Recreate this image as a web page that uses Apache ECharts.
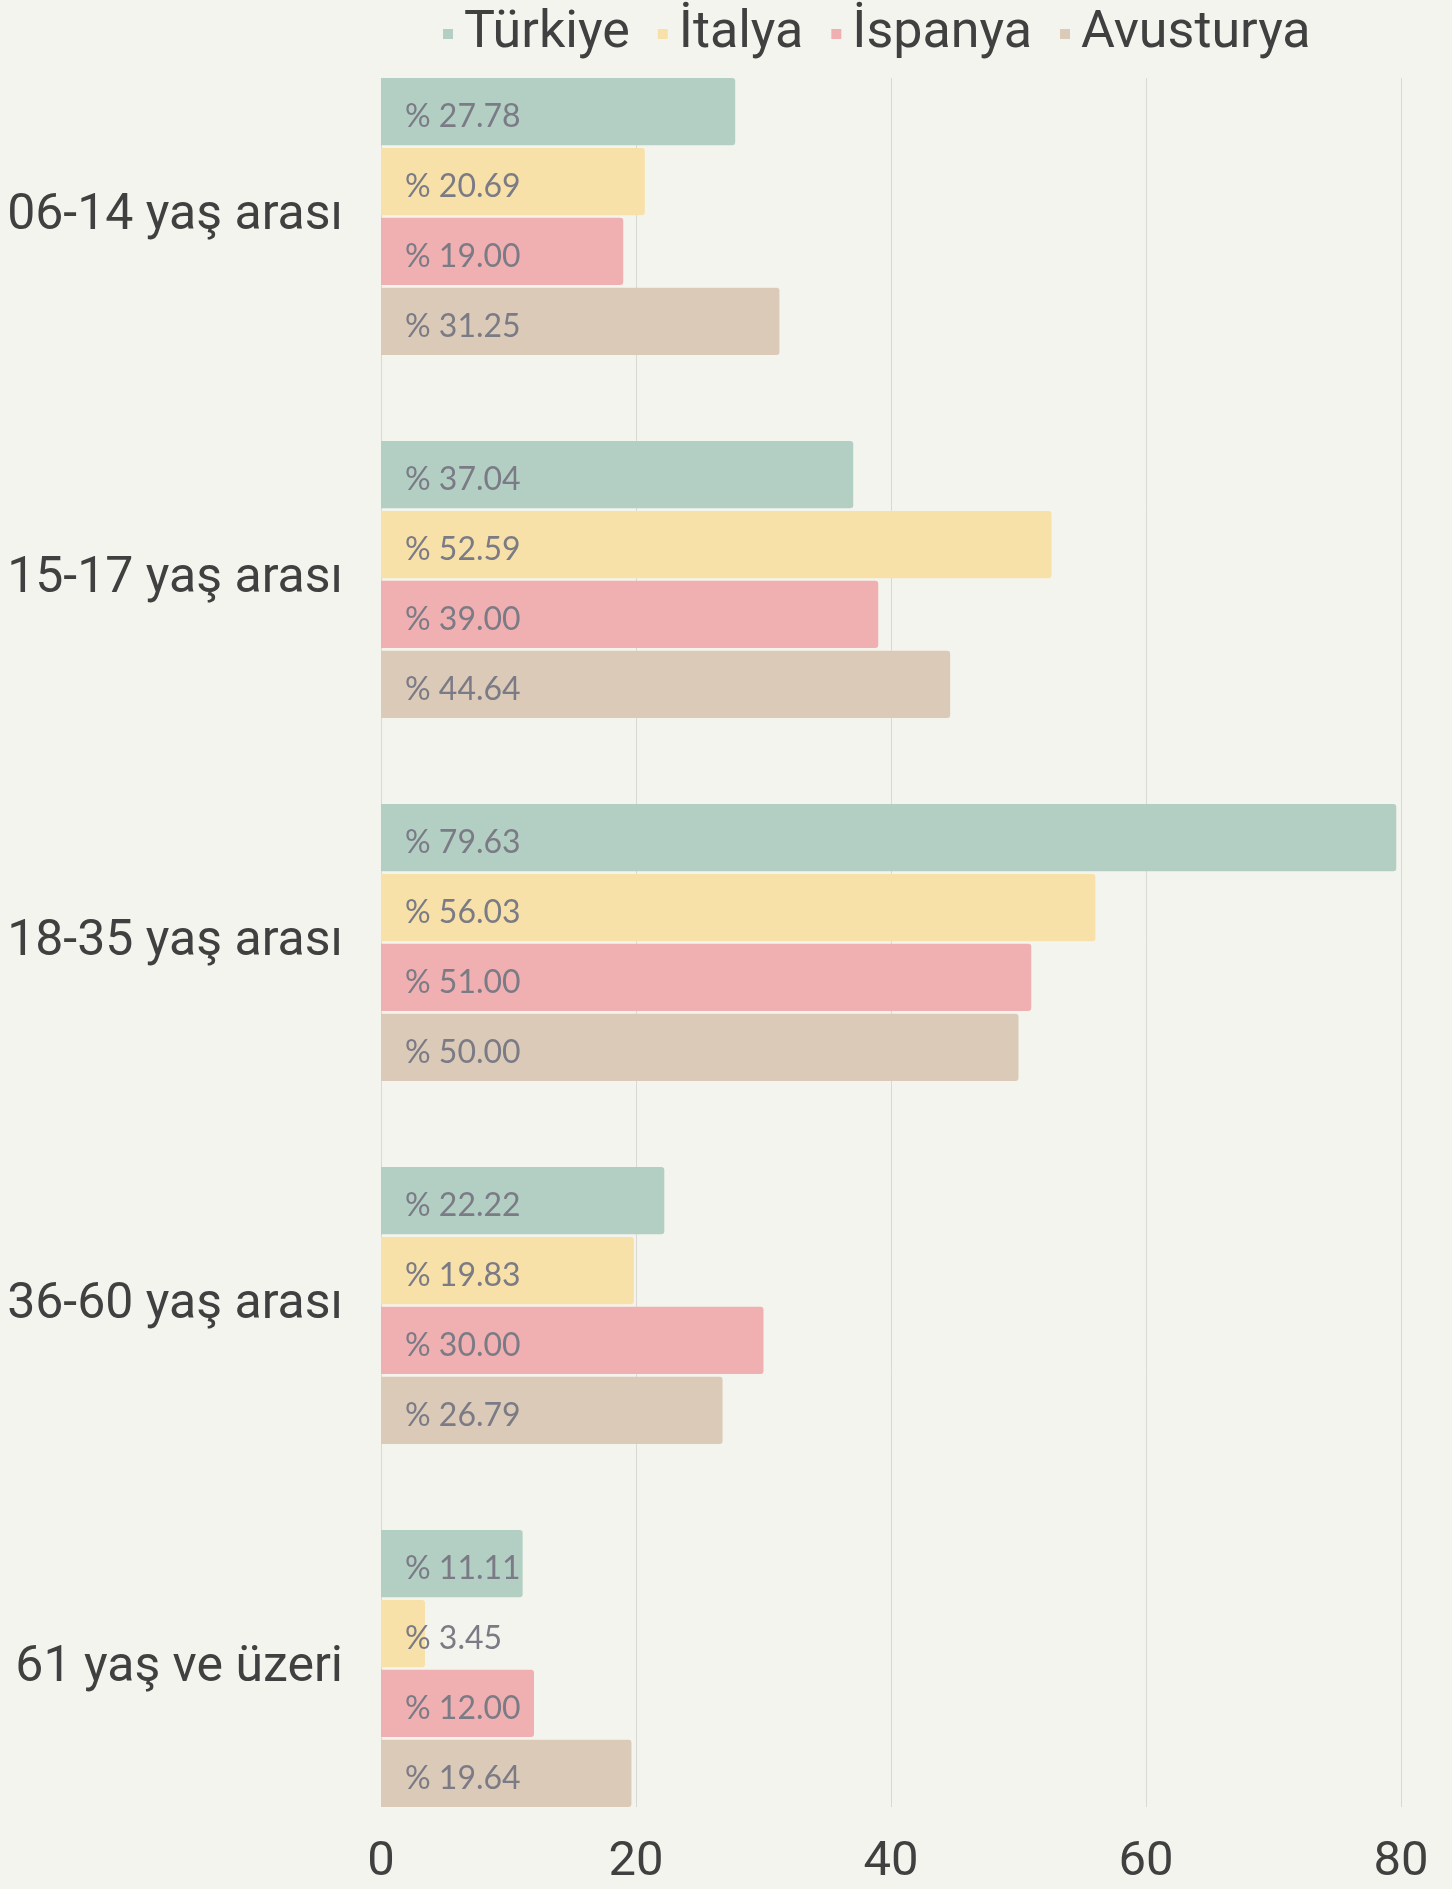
<!DOCTYPE html>
<html>
<head>
<meta charset="utf-8">
<script src="https://cdn.jsdelivr.net/npm/echarts@6/dist/echarts.min.js"></script>
<style>
html,body{margin:0;padding:0;background:#f4f4ee;}
#chart{width:1452px;height:1889px;}
</style>
</head>
<body>
<div id="chart"></div>
<script>
// yaş grupları
var kategoriler = ["06-14 yaş arası", "15-17 yaş arası", "18-35 yaş arası", "36-60 yaş arası", "61 yaş ve üzeri"];
var ulkeler = ["Türkiye", "İtalya", "İspanya", "Avusturya"];
var renkler = ["#b3cfc4", "#f8e1a8", "#f0b0b1", "#dccab8"];
var turkiye = [27.78, 37.04, 79.63, 22.22, 11.11];
var italya = [20.69, 52.59, 56.03, 19.83, 3.45];
var ispanya = [19.00, 39.00, 51.00, 30.00, 12.00];
var avusturya = [31.25, 44.64, 50.00, 26.79, 19.64];
var xTicks = [0, 20, 40, 60, 80];

var veriler = [turkiye, italya, ispanya, avusturya];

var myChart = echarts.init(document.getElementById("chart"));
var seriesList = [];
for (let i = 0; i < ulkeler.length; i++) {
	seriesList.push({
		name: ulkeler[i],
		type: 'bar',
		xAxisIndex: 1,
		yAxisIndex: 1,
		barGap: '4%',
		barCategoryGap: '23.7%',
		itemStyle: {
			color: renkler[i],
			borderRadius: [0, 3, 3, 0]
		},
		label: {
			show: true,
			position: 'insideLeft',
			distance: 24,
			offset: [0, 5],
			color: '#7b7b86',
			fontFamily: 'Lato',
			fontSize: 32,
			formatter: function (p) {
				return '% ' + p.value.toFixed(2);
			}
		},
		data: veriler[i]
	});
}

var option = {
	backgroundColor: '#f4f4ee',
	animation: false,
	textStyle: { fontFamily: 'Roboto' },
	legend: {
		data: ulkeler,
		left: 438,
		top: 3,
		icon: 'rect',
		itemWidth: 10,
		itemHeight: 10,
		itemGap: 28,
		textStyle: {
			fontSize: 52,
			color: '#404040',
			fontFamily: 'Roboto',
			padding: [0, 0, 0, 6]
		}
	},
	// grid 0: ızgara çizgileri ve eksen etiketleri, grid 1: çubuklar
	grid: [{
		left: 381,
		right: 51,
		top: 78,
		bottom: 82
	}, {
		left: 381,
		right: 51,
		top: 35,
		bottom: 39
	}],
	xAxis: [{
		type: 'value',
		gridIndex: 0,
		min: xTicks[0],
		max: xTicks[xTicks.length - 1],
		interval: 20,
		axisLine: { show: false },
		axisTick: { show: false },
		axisLabel: {
			fontSize: 49,
			color: '#404040',
			margin: 31
		},
		splitLine: {
			lineStyle: { color: '#d9d9d3', width: 1 }
		}
	}, {
		type: 'value',
		gridIndex: 1,
		min: xTicks[0],
		max: xTicks[xTicks.length - 1],
		show: false
	}],
	yAxis: [{
		type: 'category',
		gridIndex: 0,
		inverse: true,
		data: kategoriler,
		show: false
	}, {
		type: 'category',
		gridIndex: 1,
		inverse: true,
		data: kategoriler,
		axisLine: { show: false },
		axisTick: { show: false },
		axisLabel: {
			fontSize: 50,
			color: '#404040',
			margin: 38
		}
	}],
	series: seriesList
};
myChart.setOption(option);
</script>
</body>
</html>
